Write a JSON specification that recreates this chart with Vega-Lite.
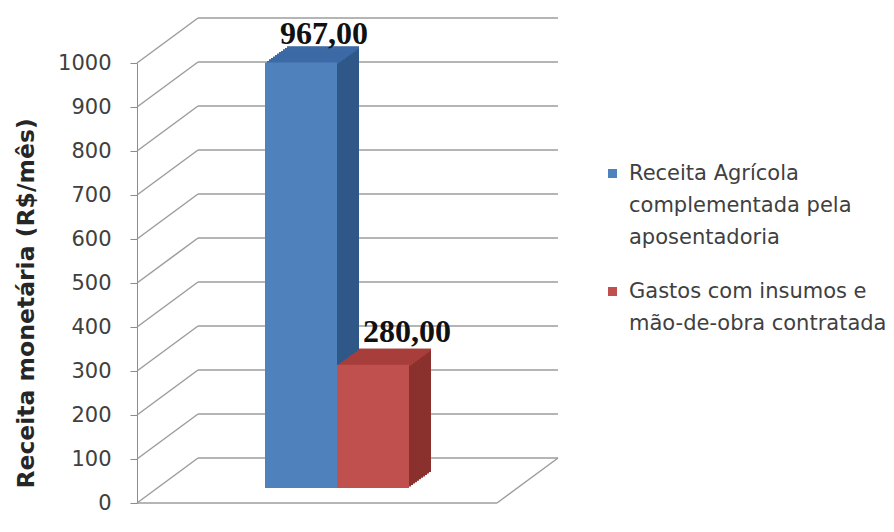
{
  "$schema": "https://vega.github.io/schema/vega-lite/v6.json",
  "width": 360,
  "height": 440,
  "autosize": {"type": "none"},
  "padding": {"left": 137, "top": 63, "right": 397, "bottom": 29},
  "background": "white",
  "config": {
    "view": {"stroke": null},
    "locale": {"number": {"decimal": ",", "thousands": ".", "grouping": [3], "currency": ["R$", ""]}},
    "style": {"guide-label": {"lineHeight": 32}}
  },
  "datasets": {
    "bars": [
      {"serie": "Receita Agrícola complementada pela aposentadoria", "valor": 967},
      {"serie": "Gastos com insumos e mão-de-obra contratada", "valor": 280}
    ],
    "grid": [
      {"v": 0}, {"v": 100}, {"v": 200}, {"v": 300}, {"v": 400}, {"v": 500},
      {"v": 600}, {"v": 700}, {"v": 800}, {"v": 900}, {"v": 1000}
    ]
  },
  "resolve": {"scale": {"x": "independent"}},
  "layer": [
    {
      "data": {"name": "grid"},
      "layer": [
        {
          "mark": {"type": "rule", "color": "#9d9d9d", "strokeWidth": 1.5, "xOffset": 61, "x2Offset": 61, "yOffset": -45, "y2Offset": -45},
          "encoding": {
            "x": {"datum": 0, "type": "quantitative", "scale": {"domain": [0, 1]}, "axis": null},
            "x2": {"datum": 1},
            "y": {
              "field": "v", "type": "quantitative",
              "scale": {"domain": [0, 1000], "nice": false},
              "axis": {
                "title": "Receita monetária (R$/mês)",
                "values": [0, 100, 200, 300, 400, 500, 600, 700, 800, 900, 1000],
                "format": "d",
                "grid": false,
                "domainColor": "#8c8c8c",
                "tickColor": "#8c8c8c",
                "tickSize": 7,
                "labelPadding": 19,
                "labelFont": "DejaVu Sans",
                "labelFontSize": 21,
                "labelColor": "#404040",
                "titleFont": "DejaVu Sans",
                "titleFontWeight": "bold",
                "titleFontSize": 23.5,
                "titleColor": "#262626",
                "titleX": -104,
                "titleY": 240,
                "titleBaseline": "alphabetic"
              }
            }
          }
        },
        {
          "mark": {"type": "rule", "color": "#9d9d9d", "strokeWidth": 1.5, "x2Offset": 61, "y2Offset": -45},
          "encoding": {
            "x": {"datum": 0, "type": "quantitative", "scale": {"domain": [0, 1]}, "axis": null},
            "x2": {"datum": 0},
            "y": {"field": "v", "type": "quantitative"},
            "y2": {"field": "v"}
          }
        },
        {
          "transform": [{"filter": "datum.v == 0"}],
          "mark": {"type": "rule", "color": "#9d9d9d", "strokeWidth": 1.5},
          "encoding": {
            "x": {"datum": 0, "type": "quantitative", "scale": {"domain": [0, 1]}, "axis": null},
            "x2": {"datum": 1},
            "y": {"field": "v", "type": "quantitative"}
          }
        },
        {
          "transform": [{"filter": "datum.v == 0"}],
          "mark": {"type": "rule", "color": "#9d9d9d", "strokeWidth": 1.5, "x2Offset": 61, "y2Offset": -45},
          "encoding": {
            "x": {"datum": 1, "type": "quantitative", "scale": {"domain": [0, 1]}, "axis": null},
            "x2": {"datum": 1},
            "y": {"field": "v", "type": "quantitative"},
            "y2": {"field": "v"}
          }
        }
      ]
    },
    {
      "data": {"name": "bars"},
      "encoding": {
        "x": {
          "field": "serie", "type": "nominal",
          "scale": {"domain": ["_a", "Receita Agrícola complementada pela aposentadoria", "Gastos com insumos e mão-de-obra contratada", "_b"], "paddingInner": 0, "paddingOuter": 0.5},
          "axis": null
        },
        "y": {"field": "valor", "type": "quantitative", "scale": {"domain": [0, 1000], "nice": false}}
      },
      "layer": [
        {"mark": {"type": "bar", "xOffset": 42, "x2Offset": 42, "yOffset": -31, "y2Offset": -31}, "encoding": {"color": {"condition": {"test": "indexof(datum.serie, 'Receita') >= 0", "value": "#2f5888"}, "value": "#8a302d"}}},
        {"mark": {"type": "bar", "xOffset": 40, "x2Offset": 40, "yOffset": -29.5, "y2Offset": -29.5}, "encoding": {"color": {"condition": {"test": "indexof(datum.serie, 'Receita') >= 0", "value": "#2f5888"}, "value": "#8a302d"}}},
        {"mark": {"type": "bar", "xOffset": 38, "x2Offset": 38, "yOffset": -28, "y2Offset": -28}, "encoding": {"color": {"condition": {"test": "indexof(datum.serie, 'Receita') >= 0", "value": "#2f5888"}, "value": "#8a302d"}}},
        {"mark": {"type": "bar", "xOffset": 36, "x2Offset": 36, "yOffset": -26.6, "y2Offset": -26.6}, "encoding": {"color": {"condition": {"test": "indexof(datum.serie, 'Receita') >= 0", "value": "#2f5888"}, "value": "#8a302d"}}},
        {"mark": {"type": "bar", "xOffset": 34, "x2Offset": 34, "yOffset": -25.2, "y2Offset": -25.2}, "encoding": {"color": {"condition": {"test": "indexof(datum.serie, 'Receita') >= 0", "value": "#2f5888"}, "value": "#8a302d"}}},
        {"mark": {"type": "bar", "xOffset": 32, "x2Offset": 32, "yOffset": -23.7, "y2Offset": -23.7}, "encoding": {"color": {"condition": {"test": "indexof(datum.serie, 'Receita') >= 0", "value": "#2f5888"}, "value": "#8a302d"}}},
        {"mark": {"type": "bar", "xOffset": 30, "x2Offset": 30, "yOffset": -22.3, "y2Offset": -22.3}, "encoding": {"color": {"condition": {"test": "indexof(datum.serie, 'Receita') >= 0", "value": "#2f5888"}, "value": "#8a302d"}}},
        {"mark": {"type": "bar", "xOffset": 28, "x2Offset": 28, "yOffset": -20.8, "y2Offset": -20.8}, "encoding": {"color": {"condition": {"test": "indexof(datum.serie, 'Receita') >= 0", "value": "#2f5888"}, "value": "#8a302d"}}},
        {"mark": {"type": "bar", "xOffset": 26, "x2Offset": 26, "yOffset": -19.4, "y2Offset": -19.4}, "encoding": {"color": {"condition": {"test": "indexof(datum.serie, 'Receita') >= 0", "value": "#2f5888"}, "value": "#8a302d"}}},
        {"mark": {"type": "bar", "xOffset": 24, "x2Offset": 24, "yOffset": -17.9, "y2Offset": -17.9}, "encoding": {"color": {"condition": {"test": "indexof(datum.serie, 'Receita') >= 0", "value": "#2f5888"}, "value": "#8a302d"}}},
        {"mark": {"type": "bar", "xOffset": 22, "x2Offset": 22, "yOffset": -16.5, "y2Offset": -16.5}, "encoding": {"color": {"condition": {"test": "indexof(datum.serie, 'Receita') >= 0", "value": "#2f5888"}, "value": "#8a302d"}}},
        {"mark": {"type": "bar", "xOffset": 42, "x2Offset": 42, "yOffset": -31, "y2Offset": -28.5}, "encoding": {"y2": {"field": "valor"}, "color": {"condition": {"test": "indexof(datum.serie, 'Receita') >= 0", "value": "#3c6aa6"}, "value": "#a83e3b"}}},
        {"mark": {"type": "bar", "xOffset": 40, "x2Offset": 40, "yOffset": -29.5, "y2Offset": -27}, "encoding": {"y2": {"field": "valor"}, "color": {"condition": {"test": "indexof(datum.serie, 'Receita') >= 0", "value": "#3c6aa6"}, "value": "#a83e3b"}}},
        {"mark": {"type": "bar", "xOffset": 38, "x2Offset": 38, "yOffset": -28, "y2Offset": -25.5}, "encoding": {"y2": {"field": "valor"}, "color": {"condition": {"test": "indexof(datum.serie, 'Receita') >= 0", "value": "#3c6aa6"}, "value": "#a83e3b"}}},
        {"mark": {"type": "bar", "xOffset": 36, "x2Offset": 36, "yOffset": -26.6, "y2Offset": -24.1}, "encoding": {"y2": {"field": "valor"}, "color": {"condition": {"test": "indexof(datum.serie, 'Receita') >= 0", "value": "#3c6aa6"}, "value": "#a83e3b"}}},
        {"mark": {"type": "bar", "xOffset": 34, "x2Offset": 34, "yOffset": -25.2, "y2Offset": -22.7}, "encoding": {"y2": {"field": "valor"}, "color": {"condition": {"test": "indexof(datum.serie, 'Receita') >= 0", "value": "#3c6aa6"}, "value": "#a83e3b"}}},
        {"mark": {"type": "bar", "xOffset": 32, "x2Offset": 32, "yOffset": -23.7, "y2Offset": -21.2}, "encoding": {"y2": {"field": "valor"}, "color": {"condition": {"test": "indexof(datum.serie, 'Receita') >= 0", "value": "#3c6aa6"}, "value": "#a83e3b"}}},
        {"mark": {"type": "bar", "xOffset": 30, "x2Offset": 30, "yOffset": -22.3, "y2Offset": -19.8}, "encoding": {"y2": {"field": "valor"}, "color": {"condition": {"test": "indexof(datum.serie, 'Receita') >= 0", "value": "#3c6aa6"}, "value": "#a83e3b"}}},
        {"mark": {"type": "bar", "xOffset": 28, "x2Offset": 28, "yOffset": -20.8, "y2Offset": -18.3}, "encoding": {"y2": {"field": "valor"}, "color": {"condition": {"test": "indexof(datum.serie, 'Receita') >= 0", "value": "#3c6aa6"}, "value": "#a83e3b"}}},
        {"mark": {"type": "bar", "xOffset": 26, "x2Offset": 26, "yOffset": -19.4, "y2Offset": -16.9}, "encoding": {"y2": {"field": "valor"}, "color": {"condition": {"test": "indexof(datum.serie, 'Receita') >= 0", "value": "#3c6aa6"}, "value": "#a83e3b"}}},
        {"mark": {"type": "bar", "xOffset": 24, "x2Offset": 24, "yOffset": -17.9, "y2Offset": -15.4}, "encoding": {"y2": {"field": "valor"}, "color": {"condition": {"test": "indexof(datum.serie, 'Receita') >= 0", "value": "#3c6aa6"}, "value": "#a83e3b"}}},
        {"mark": {"type": "bar", "xOffset": 22, "x2Offset": 22, "yOffset": -16.5, "y2Offset": -14}, "encoding": {"y2": {"field": "valor"}, "color": {"condition": {"test": "indexof(datum.serie, 'Receita') >= 0", "value": "#3c6aa6"}, "value": "#a83e3b"}}},
        {
          "mark": {"type": "bar", "xOffset": 20, "x2Offset": 20, "yOffset": -15, "y2Offset": -15},
          "encoding": {
            "color": {
              "field": "serie", "type": "nominal",
              "scale": {"domain": ["Receita Agrícola complementada pela aposentadoria", "Gastos com insumos e mão-de-obra contratada"], "range": ["#4f81bd", "#c0504d"]},
              "legend": {
                "title": null,
                "orient": "none",
                "legendX": 465,
                "legendY": 100,
                "padding": 0,
                "symbolType": "square",
                "symbolSize": 81,
                "symbolStrokeWidth": 0,
                "labelFont": "DejaVu Sans",
                "labelFontSize": 21,
                "labelColor": "#404040",
                "labelLimit": 0,
                "labelOffset": 6,
                "rowPadding": 32,
                "labelExpr": "indexof(datum.label, 'Receita') >= 0 ? ['Receita Agrícola', 'complementada pela', 'aposentadoria'] : ['Gastos com insumos e', 'mão-de-obra contratada']"
              }
            }
          }
        },
        {
          "transform": [{"filter": "indexof(datum.serie, 'Receita') >= 0"}],
          "mark": {"type": "text", "font": "Liberation Serif", "fontWeight": "bold", "fontSize": 32, "color": "#111111", "align": "center", "baseline": "alphabetic", "dx": 43, "dy": -34},
          "encoding": {"text": {"field": "valor", "type": "quantitative", "format": ".2f"}}
        },
        {
          "transform": [{"filter": "indexof(datum.serie, 'Gastos') >= 0"}],
          "mark": {"type": "text", "font": "Liberation Serif", "fontWeight": "bold", "fontSize": 32, "color": "#111111", "align": "center", "baseline": "alphabetic", "dx": 54, "dy": -38},
          "encoding": {"text": {"field": "valor", "type": "quantitative", "format": ".2f"}}
        }
      ]
    }
  ]
}
